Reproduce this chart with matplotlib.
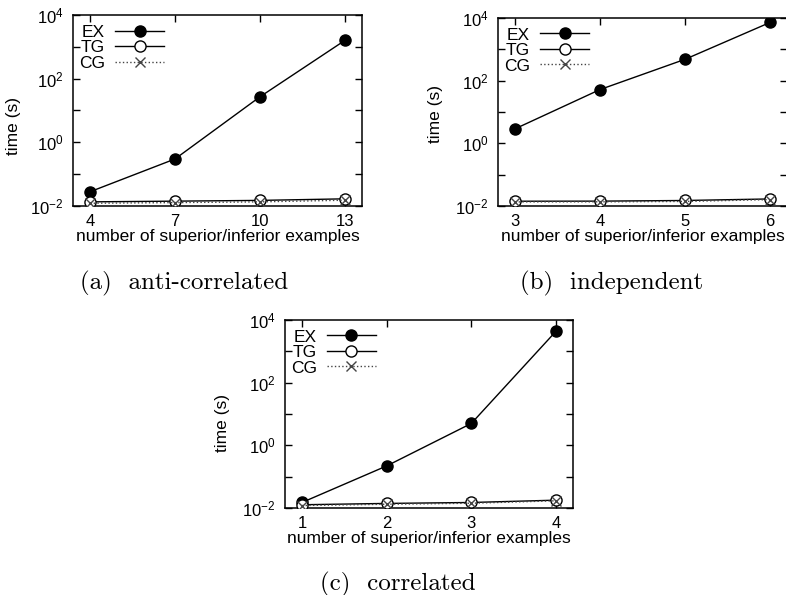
import numpy as np
import matplotlib
matplotlib.use("Agg")
import matplotlib.pyplot as plt
from matplotlib.ticker import FixedLocator, FuncFormatter

plt.rcParams['font.family'] = ['Liberation Sans', 'DejaVu Sans']
plt.rcParams['mathtext.fontset'] = 'custom'
plt.rcParams['mathtext.rm'] = 'Liberation Sans'
plt.rcParams['mathtext.it'] = 'Liberation Sans'
plt.rcParams['font.size'] = 12

# (a) anti-correlated
anti_x = [4, 7, 10, 13]
anti_ex = [0.028, 0.30, 27, 1600]
anti_tg = [0.0135, 0.0142, 0.0150, 0.0168]
anti_cg = [0.0122, 0.0128, 0.0135, 0.0152]

# (b) independent
ind_x = [3, 4, 5, 6]
ind_ex = [2.9, 52, 480, 7200]
ind_tg = [0.0142, 0.0143, 0.0150, 0.0168]
ind_cg = [0.0135, 0.0136, 0.0140, 0.0160]

# (c) correlated
cor_x = [1, 2, 3, 4]
cor_ex = [0.015, 0.22, 5.0, 4400]
cor_tg = [0.0127, 0.0140, 0.0150, 0.0178]
cor_cg = [0.0120, 0.0132, 0.0142, 0.0170]

captions = ['(a)  anti-correlated', '(b)  independent', '(c)  correlated']

W, H = 786, 595
fig = plt.figure(figsize=(W / 100, H / 100), dpi=100)


def px(l, t, r, b):
    return [l / W, 1 - b / H, (r - l) / W, (b - t) / H]


def decade_label(v, pos):
    e = int(round(np.log10(v)))
    if e % 2 != 0:
        return ''
    return r'$10^{%d}$' % e


def panel(rect, x, ex, tg, cg, xlim, ylab_x, ylab_y):
    ax = fig.add_axes(rect)
    ax.plot(x, ex, '-o', color='black', lw=1, ms=8, mfc='black', label='EX')
    ax.plot(x, tg, '-o', color='black', lw=1, ms=8, mfc='white', label='TG', zorder=3)
    ax.plot(x, cg, ':x', color='#444444', lw=1, ms=7, mew=1, label='CG', zorder=4)
    ax.set_yscale('log')
    ax.set_ylim(1e-2, 1e4)
    ax.set_xlim(*xlim)
    ax.set_xticks(x)
    ax.yaxis.set_major_locator(FixedLocator([10.0 ** k for k in range(-2, 5)]))
    ax.yaxis.set_major_formatter(FuncFormatter(decade_label))
    ax.yaxis.set_minor_locator(FixedLocator([]))
    ax.tick_params(direction='in', length=5, width=1, top=True, right=True, labelsize=12)
    ax.tick_params(axis='x', pad=6)
    ax.tick_params(axis='y', pad=7)
    for s in ax.spines.values():
        s.set_linewidth(1.1)
    ax.set_xlabel('number of superior/inferior examples', fontsize=12.5, labelpad=0)
    ax.set_ylabel('time (s)', fontsize=12.5)
    ax.yaxis.set_label_coords(ylab_x, ylab_y)
    ax.legend(loc='upper left', bbox_to_anchor=(0.02, 0.95), frameon=False,
              markerfirst=False, handlelength=2.8, handletextpad=0.6,
              labelspacing=0.02, borderaxespad=0, borderpad=0, fontsize=12.5)
    return ax


panel(px(73, 15, 362, 206), anti_x, anti_ex, anti_tg, anti_cg, (3.4, 13.6), -0.18, 0.42)
panel(px(498, 18, 787, 206), ind_x, ind_ex, ind_tg, ind_cg, (2.8, 6.2), -0.19, 0.49)
panel(px(285, 320, 573, 508), cor_x, cor_ex, cor_tg, cor_cg, (0.8, 4.2), -0.19, 0.45)

fig.text(80 / W, 1 - 289 / H, captions[0], family='cmr10', fontsize=18, va='baseline', ha='left')
fig.text(520 / W, 1 - 289 / H, captions[1], family='cmr10', fontsize=18, va='baseline', ha='left')
fig.text(320 / W, 1 - 590 / H, captions[2], family='cmr10', fontsize=18, va='baseline', ha='left')

fig.savefig('out.png', dpi=100)
